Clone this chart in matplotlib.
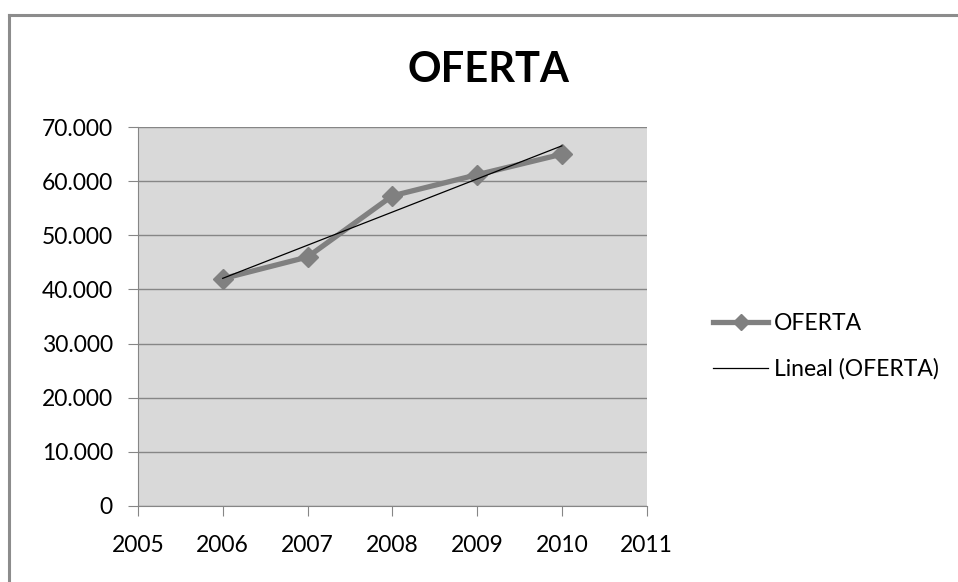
import numpy as np
import matplotlib.pyplot as plt
from matplotlib.ticker import FuncFormatter

years = [2006, 2007, 2008, 2009, 2010]
oferta = [42000, 46000, 57300, 61200, 65000]

plt.rcParams['font.family'] = ['Lato', 'DejaVu Sans']

fig = plt.figure(figsize=(9.58, 5.82), dpi=100)
ax = fig.add_axes([0.144, 0.1306, 0.531, 0.651])
ax.set_facecolor('#d9d9d9')

# linear trend
coef = np.polyfit(years, oferta, 1)
trend = np.polyval(coef, years)

ax.plot(years, oferta, color='#808080', lw=3.8, marker='D', markersize=10,
        label='OFERTA', zorder=3)
ax.plot(years, trend, color='black', lw=0.9, label='Lineal (OFERTA)', zorder=4)

ax.set_xlim(2005, 2011)
ax.set_ylim(0, 70000)
ax.set_xticks(range(2005, 2012))
ax.set_yticks(range(0, 70001, 10000))
ax.yaxis.set_major_formatter(FuncFormatter(
    lambda v, p: '0' if v == 0 else f'{int(v):,}'.replace(',', '.')))

ax.grid(axis='y', color='#868686', lw=1)
ax.set_axisbelow(True)
for s in ['top', 'right']:
    ax.spines[s].set_visible(False)
for s in ['left', 'bottom']:
    ax.spines[s].set_color('#868686')
ax.tick_params(colors='#868686', labelcolor='black', labelsize=16.5, length=7)
ax.tick_params(axis='x', pad=14)
ax.tick_params(axis='y', pad=11)

fig.text(0.51, 0.88, 'OFERTA', ha='center', va='center', fontsize=30,
         fontweight='bold')

ax.legend(loc='center left', bbox_to_anchor=(0.735, 0.405), bbox_transform=fig.transFigure,
          frameon=False, fontsize=16.5, handlelength=2.4, handletextpad=0.25,
          labelspacing=1.05, borderaxespad=0, markerscale=0.8)

# chart border (only left and top visible)
fig.add_artist(plt.Line2D([0.0094, 0.0094], [0, 0.974], color='#8c8c8c', lw=2.2,
                          transform=fig.transFigure))
fig.add_artist(plt.Line2D([0.0094, 1], [0.974, 0.974], color='#8c8c8c', lw=2.2,
                          transform=fig.transFigure))

fig.savefig('out.png', dpi=100)
